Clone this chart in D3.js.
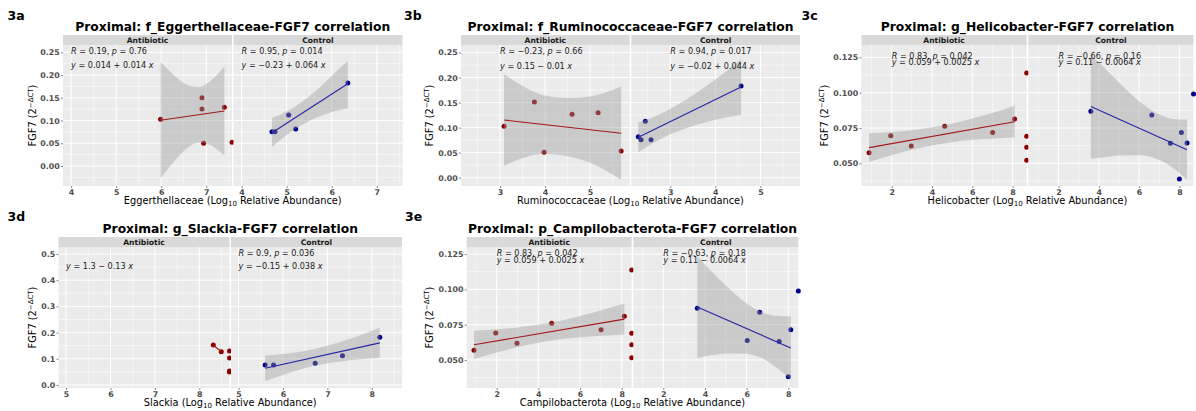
<!DOCTYPE html>
<html>
<head>
<meta charset="utf-8">
<script src="https://cdn.jsdelivr.net/npm/d3@7"></script>
<style>
  body { margin: 0; background: #ffffff; }
  svg text { font-family: "DejaVu Sans", "Liberation Sans", sans-serif; }
</style>
</head>
<body>
<svg id="fig" width="1196" height="411"></svg>
<script>
// ---------- 3a: f_Eggerthellaceae ----------
const eggXLim = [3.82, 7.57];
const eggYLim = [-0.044, 0.2661];
const eggXTicks = [4, 5, 6, 7];
const eggYTicks = [0, 0.05, 0.10, 0.15, 0.20, 0.25];
const eggAbxPts = [[5.985, 0.1026], [6.904, 0.1502], [6.904, 0.1253], [7.40, 0.129], [6.94, 0.0498], [7.57, 0.052]];
const eggCtlPts = [[4.673, 0.0754], [4.74, 0.0754], [5.044, 0.112], [5.20, 0.0813], [6.356, 0.1825]];
const eggAbxFit = [0.0144, 0.0144, 5.985, 7.40];      // intercept, slope, x from, x to
const eggCtlFit = [-0.2258, 0.064, 4.673, 6.356];
const eggAbxBand = [[5.985, -0.0274, 0.2286], [6.3, 0.0121, 0.1981], [6.6, 0.0414, 0.1774], [6.83, 0.0518, 0.1738], [7.1, 0.0456, 0.1876], [7.40, 0.023, 0.219]];
const eggCtlBand = [[4.673, 0.0411, 0.1055], [4.9, 0.0607, 0.1149], [5.2, 0.0827, 0.1313], [5.5, 0.0992, 0.1532], [5.8, 0.1114, 0.1794], [6.1, 0.1213, 0.2079], [6.356, 0.127, 0.231]];
const eggAbxStat = ["0.19", "0.76"];
const eggCtlStat = ["0.95", "0.014"];
const eggAbxEq = "0.014 + 0.014";
const eggCtlEq = "\u22120.23 + 0.064";

// ---------- 3b: f_Ruminococcaceae ----------
const rumXLim = [2.133, 5.88];
const rumYLim = [-0.0166, 0.2649];
const rumXTicks = [3, 4, 5];
const rumYTicks = [0, 0.05, 0.10, 0.15, 0.20, 0.25];
const rumAbxPts = [[3.089, 0.1026], [3.763, 0.1511], [3.978, 0.0507], [4.60, 0.1265], [5.178, 0.1297], [5.689, 0.0533]];
const rumCtlPts = [[2.289, 0.0818], [2.349, 0.0759], [2.444, 0.1126], [2.571, 0.0759], [4.571, 0.183]];
const rumAbxFit = [0.1468, -0.01023, 3.089, 5.689];
const rumCtlFit = [-0.02, 0.04395, 2.289, 4.571];
const rumAbxBand = [[3.089, 0.024, 0.207], [3.5, 0.039, 0.183], [4.0, 0.048, 0.164], [4.5, 0.043, 0.159], [5.0, 0.030, 0.162], [5.689, -0.004, 0.182]];
const rumCtlBand = [[2.289, 0.0509, 0.1103], [2.6, 0.0683, 0.1203], [2.85, 0.0803, 0.1303], [3.3, 0.097, 0.153], [3.8, 0.111, 0.183], [4.2, 0.1196, 0.2096], [4.571, 0.1253, 0.2365]];
const rumAbxStat = ["\u22120.23", "0.66"];
const rumCtlStat = ["0.94", "0.017"];
const rumAbxEq = "0.15 \u2212 0.01";
const rumCtlEq = "\u22120.02 + 0.044";

// ---------- 3c: g_Helicobacter ----------
const helXLim = [0.5, 8.7];
const helYLim = [0.03396, 0.13374];
const helXTicks = [2, 4, 6, 8];
const helYTicks = [0.050, 0.075, 0.100, 0.125];
const helAbxPts = [[0.875, 0.0575], [1.95, 0.0696], [2.97, 0.0623], [4.63, 0.0762], [7.01, 0.0719], [8.10, 0.0814], [8.7, 0.1139], [8.7, 0.0691], [8.7, 0.0613], [8.7, 0.0521]];
const helCtlPts = [[3.606, 0.0868], [6.63, 0.0842], [7.55, 0.0642], [8.10, 0.0719], [8.38, 0.0644], [8.0, 0.0389], [8.7, 0.0991]];
const helAbxFit = [0.0589, 0.00254, 0.875, 8.10];
const helCtlFit = [0.1134, -0.00641, 3.606, 8.38];
const helAbxBand = [[0.875, 0.0509, 0.0713], [2.0, 0.0558, 0.0722], [3.0, 0.0596, 0.0734], [4.256, 0.0634, 0.076], [5.5, 0.066, 0.0798], [6.5, 0.0672, 0.0836], [7.3, 0.0678, 0.087], [8.10, 0.0683, 0.0907]];
const helCtlBand = [[3.606, 0.0535, 0.1271], [4.3, 0.0543, 0.1173], [5.0, 0.0556, 0.1072], [6.0, 0.0558, 0.094], [7.044, 0.0522, 0.0844], [7.7, 0.0466, 0.0814], [8.38, 0.0384, 0.081]];
const helAbxStat = ["0.83", "0.042"];
const helCtlStat = ["\u22120.66", "0.16"];
const helAbxEq = "0.059 + 0.0025";
const helCtlEq = "0.11 \u2212 0.0064";

// ---------- 3d: g_Slackia ----------
const slaXLim = [4.83, 8.68];
const slaYLim = [-0.0115, 0.5267];
const slaXTicks = [5, 6, 7, 8];
const slaYTicks = [0, 0.1, 0.2, 0.3, 0.4, 0.5];
const slaAbxPts = [[8.315, 0.1527], [8.495, 0.127], [8.68, 0.1298], [8.68, 0.103], [8.68, 0.0534], [8.68, 0.050]];
const slaCtlPts = [[5.599, 0.0763], [5.788, 0.0763], [6.725, 0.0827], [7.34, 0.112], [8.18, 0.182]];
const slaAbxFit = [1.266, -0.134, 8.315, 8.495];
const slaCtlFit = [-0.1469, 0.0376, 5.599, 8.18];
const slaAbxBand = [];
const slaCtlBand = [[5.599, 0.0151, 0.1121], [6.2, 0.05, 0.1224], [6.726, 0.0742, 0.1378], [7.3, 0.0901, 0.1651], [7.8, 0.0988, 0.194], [8.18, 0.1032, 0.2182]];
const slaAbxStat = null;
const slaCtlStat = ["0.9", "0.036"];
const slaAbxEq = "1.3 \u2212 0.13";
const slaCtlEq = "\u22120.15 + 0.038";

// ---------- 3e: p_Campilobacterota ----------
const camXLim = [0.56, 8.48];
const camYLim = [0.0302, 0.130];
const camXTicks = [2, 4, 6, 8];
const camYTicks = [0.050, 0.075, 0.100, 0.125];
const camAbxPts = [[0.910, 0.0569], [1.952, 0.0691], [2.975, 0.0618], [4.64, 0.076], [7.007, 0.0714], [8.126, 0.0809], [8.48, 0.1137], [8.48, 0.0689], [8.48, 0.0608], [8.48, 0.0516]];
const camCtlPts = [[3.632, 0.0866], [6.03, 0.0639], [6.628, 0.0838], [7.56, 0.0632], [8.0, 0.0382], [8.12, 0.0715], [8.48, 0.0988]];
const camAbxFit = [0.0585, 0.00252, 0.910, 8.126];
const camCtlFit = [0.111, -0.00646, 3.632, 8.12];
const camAbxBand = [[0.91, 0.0508, 0.0708], [2.0, 0.0553, 0.0717], [3.0, 0.0592, 0.073], [4.27, 0.063, 0.0756], [5.5, 0.0655, 0.0793], [6.5, 0.0667, 0.0831], [7.3, 0.0673, 0.0865], [8.126, 0.068, 0.09]];
const camCtlBand = [[3.632, 0.0515, 0.1235], [4.3, 0.0534, 0.113], [5.0, 0.0547, 0.1027], [6.0, 0.0544, 0.09], [6.662, 0.0517, 0.0843], [7.4, 0.0451, 0.0813], [8.12, 0.0361, 0.0809]];
const camAbxStat = ["0.83", "0.042"];
const camCtlStat = ["\u22120.63", "0.18"];
const camAbxEq = "0.059 + 0.0025";
const camCtlEq = "0.11 \u2212 0.0064";

// ---------- layout ----------
const ROW1 = { top: 45, bottom: 186, stripTop: 35, titleY: 30.5, tagY: 20 };
const ROW2 = { top: 247, bottom: 388, stripTop: 237, titleY: 232.5, tagY: 220.5 };

const panels = [
  { tag: "3a", tagX: 7.5, row: ROW1, yTitleX: 36, A: [63, 232], C: [233.5, 402.5],
    title: "Proximal: f_Eggerthellaceae-FGF7 correlation", taxon: "Eggerthellaceae",
    xLim: eggXLim, yLim: eggYLim, xTicks: eggXTicks, yTicks: eggYTicks, yFmt: ".2f",
    statDy: 9, eqDy: 23,
    abx: { pts: eggAbxPts, fit: eggAbxFit, band: eggAbxBand, stat: eggAbxStat, eq: eggAbxEq, lx: 4 },
    ctl: { pts: eggCtlPts, fit: eggCtlFit, band: eggCtlBand, stat: eggCtlStat, eq: eggCtlEq, lx: 4 } },
  { tag: "3b", tagX: 404, row: ROW1, yTitleX: 432.5, A: [461, 629.7], C: [631.3, 800],
    title: "Proximal: f_Ruminococcaceae-FGF7 correlation", taxon: "Ruminococcaceae",
    xLim: rumXLim, yLim: rumYLim, xTicks: rumXTicks, yTicks: rumYTicks, yFmt: ".2f",
    statDy: 8.6, eqDy: 23.6,
    abx: { pts: rumAbxPts, fit: rumAbxFit, band: rumAbxBand, stat: rumAbxStat, eq: rumAbxEq, lx: 3 },
    ctl: { pts: rumCtlPts, fit: rumCtlFit, band: rumCtlBand, stat: rumCtlStat, eq: rumCtlEq, lx: 3 } },
  { tag: "3c", tagX: 801.5, row: ROW1, yTitleX: 827.5, A: [861.5, 1026.7], C: [1028.3, 1193.5],
    title: "Proximal: g_Helicobacter-FGF7 correlation", taxon: "Helicobacter",
    xLim: helXLim, yLim: helYLim, xTicks: helXTicks, yTicks: helYTicks, yFmt: ".3f",
    statDy: 13.8, eqDy: 20.4,
    abx: { pts: helAbxPts, fit: helAbxFit, band: helAbxBand, stat: helAbxStat, eq: helAbxEq, lx: 2 },
    ctl: { pts: helCtlPts, fit: helCtlFit, band: helCtlBand, stat: helCtlStat, eq: helCtlEq, lx: 2 } },
  { tag: "3d", tagX: 7.5, row: ROW2, yTitleX: 36, A: [58.5, 229.5], C: [231, 402],
    title: "Proximal: g_Slackia-FGF7 correlation", taxon: "Slackia",
    xLim: slaXLim, yLim: slaYLim, xTicks: slaXTicks, yTicks: slaYTicks, yFmt: ".1f",
    statDy: 8.6, eqDy: 22.3,
    abx: { pts: slaAbxPts, fit: slaAbxFit, band: slaAbxBand, stat: slaAbxStat, eq: slaAbxEq, lx: 5 },
    ctl: { pts: slaCtlPts, fit: slaCtlFit, band: slaCtlBand, stat: slaCtlStat, eq: slaCtlEq, lx: 5 } },
  { tag: "3e", tagX: 405, row: ROW2, yTitleX: 432.5, A: [466.7, 631.7], C: [633.3, 798.3],
    title: "Proximal: p_Campilobacterota-FGF7 correlation", taxon: "Campilobacterota",
    xLim: camXLim, yLim: camYLim, xTicks: camXTicks, yTicks: camYTicks, yFmt: ".3f",
    statDy: 8.8, eqDy: 15.9,
    abx: { pts: camAbxPts, fit: camAbxFit, band: camAbxBand, stat: camAbxStat, eq: camAbxEq, lx: 2 },
    ctl: { pts: camCtlPts, fit: camCtlFit, band: camCtlBand, stat: camCtlStat, eq: camCtlEq, lx: 2 } }
];

const COL = {
  panel: "#EBEBEB", strip: "#D9D9D9", grid: "#FFFFFF",
  abxPt: "#8B0000", ctlPt: "#00008B", abxLine: "#A31818", ctlLine: "#2626A6",
  band: "#999999", tick: "#4D4D4D", text: "#1A1A1A"
};

const svg = d3.select("#fig");

// midpoints between major ticks for the lighter minor grid
function minorTicks(ticks, lim) {
  const step = ticks[1] - ticks[0];
  const out = [];
  for (let v = ticks[0] - step / 2; v <= lim[1] + 1e-9; v += step) {
    if (v >= lim[0] - 1e-9) out.push(v);
  }
  return out;
}

function drawFacet(g, p, ext, name, d, isAbx) {
  const row = p.row;
  const x = d3.scaleLinear().domain(p.xLim).range(ext);
  const y = d3.scaleLinear().domain(p.yLim).range([row.bottom, row.top]);
  const fg = g.append("g");

  // panel background
  fg.append("rect").attr("x", ext[0]).attr("y", row.top)
    .attr("width", ext[1] - ext[0]).attr("height", row.bottom - row.top)
    .attr("fill", COL.panel);

  // grid
  const xMinor = minorTicks(p.xTicks, p.xLim), yMinor = minorTicks(p.yTicks, p.yLim);
  fg.append("g").selectAll("line").data(xMinor).join("line")
    .attr("x1", v => x(v)).attr("x2", v => x(v)).attr("y1", row.top).attr("y2", row.bottom)
    .attr("stroke", COL.grid).attr("stroke-width", 0.5);
  fg.append("g").selectAll("line").data(yMinor).join("line")
    .attr("y1", v => y(v)).attr("y2", v => y(v)).attr("x1", ext[0]).attr("x2", ext[1])
    .attr("stroke", COL.grid).attr("stroke-width", 0.5);
  fg.append("g").selectAll("line").data(p.xTicks).join("line")
    .attr("x1", v => x(v)).attr("x2", v => x(v)).attr("y1", row.top).attr("y2", row.bottom)
    .attr("stroke", COL.grid).attr("stroke-width", 1);
  fg.append("g").selectAll("line").data(p.yTicks).join("line")
    .attr("y1", v => y(v)).attr("y2", v => y(v)).attr("x1", ext[0]).attr("x2", ext[1])
    .attr("stroke", COL.grid).attr("stroke-width", 1);

  // strip
  fg.append("rect").attr("x", ext[0]).attr("y", row.stripTop)
    .attr("width", ext[1] - ext[0]).attr("height", row.top - row.stripTop)
    .attr("fill", COL.strip);
  fg.append("text").attr("x", (ext[0] + ext[1]) / 2).attr("y", row.stripTop + 7.6)
    .attr("text-anchor", "middle").attr("font-size", 7.6).attr("font-weight", "bold")
    .attr("fill", COL.text).text(name);

  const clipId = "clip-" + p.tag + name;
  fg.append("clipPath").attr("id", clipId).append("rect")
    .attr("x", ext[0]).attr("y", row.top).attr("width", ext[1] - ext[0]).attr("height", row.bottom - row.top);
  const body = fg.append("g").attr("clip-path", `url(#${clipId})`);

  // points (drawn unclipped so those on the facet edge stay whole)
  fg.append("g").selectAll("circle").data(d.pts).join("circle")
    .attr("cx", q => x(q[0])).attr("cy", q => y(q[1])).attr("r", 2.5)
    .attr("fill", isAbx ? COL.abxPt : COL.ctlPt);

  // confidence band and fitted line sit above the points
  const over = fg.append("g").attr("clip-path", `url(#${clipId})`);
  if (d.band.length) {
    const area = d3.area().curve(d3.curveMonotoneX)
      .x(q => x(q[0])).y0(q => y(q[1])).y1(q => y(q[2]));
    over.append("path").attr("d", area(d.band)).attr("fill", COL.band).attr("fill-opacity", 0.4);
  }
  const [a, b, x0, x1] = d.fit;
  const line = d3.line().x(q => x(q)).y(q => y(a + b * q));
  over.append("path").attr("d", line([x0, x1])).attr("fill", "none")
    .attr("stroke", isAbx ? COL.abxLine : COL.ctlLine).attr("stroke-width", 1.1);
  body.remove();

  // annotations
  const lx = x(d.lx);
  if (d.stat) {
    const t = fg.append("text").attr("x", lx).attr("y", row.top + p.statDy)
      .attr("font-size", 8.1).attr("fill", COL.text);
    t.append("tspan").attr("font-style", "italic").text("R");
    t.append("tspan").text(" = " + d.stat[0] + ", ");
    t.append("tspan").attr("font-style", "italic").text("p");
    t.append("tspan").text(" = " + d.stat[1]);
  }
  const e = fg.append("text").attr("x", lx).attr("y", row.top + p.eqDy)
    .attr("font-size", 8.1).attr("fill", COL.text);
  e.append("tspan").attr("font-style", "italic").text("y");
  e.append("tspan").text(" = " + d.eq + " ");
  e.append("tspan").attr("font-style", "italic").text("x");

  // x axis
  const ax = fg.append("g").attr("transform", `translate(0,${row.bottom})`)
    .call(d3.axisBottom(x).tickValues(p.xTicks).tickFormat(d3.format("d")).tickSize(2).tickPadding(1.2));
  ax.select(".domain").remove();
  ax.selectAll(".tick line").attr("stroke", "#333333").attr("stroke-width", 0.6);
  ax.selectAll(".tick text").attr("font-size", 7.9).attr("font-weight", "bold")
    .attr("fill", COL.tick).attr("font-family", "DejaVu Sans");

  return y;
}

panels.forEach(p => {
  const g = svg.append("g");
  const row = p.row;
  const yA = drawFacet(g, p, p.A, "Antibiotic", p.abx, true);
  drawFacet(g, p, p.C, "Control", p.ctl, false);

  // y axis on the left facet
  const ay = g.append("g").attr("transform", `translate(${p.A[0]},0)`)
    .call(d3.axisLeft(yA).tickValues(p.yTicks).tickFormat(d3.format(p.yFmt)).tickSize(2).tickPadding(1.2));
  ay.select(".domain").remove();
  ay.selectAll(".tick line").attr("stroke", "#333333").attr("stroke-width", 0.6);
  ay.selectAll(".tick text").attr("font-size", 7.9).attr("font-weight", "bold")
    .attr("fill", COL.tick).attr("font-family", "DejaVu Sans");

  const cx = (p.A[0] + p.C[1]) / 2;

  // tag
  g.append("text").attr("x", p.tagX).attr("y", row.tagY)
    .attr("font-size", 12.5).attr("font-weight", "bold").attr("fill", "#000").text(p.tag);

  // title
  g.append("text").attr("x", cx).attr("y", row.titleY).attr("text-anchor", "middle")
    .attr("font-size", 12.3).attr("font-weight", "bold").attr("fill", "#000").text(p.title);

  // x axis title
  const xt = g.append("text").attr("x", cx).attr("y", row.bottom + 17.8).attr("text-anchor", "middle")
    .attr("font-size", 9.8).attr("fill", "#000");
  xt.append("tspan").text(p.taxon + " (Log");
  xt.append("tspan").attr("font-size", 7).attr("dy", 2).text("10");
  xt.append("tspan").attr("dy", -2).text(" Relative Abundance)");

  // y axis title
  const cy = (row.top + row.bottom) / 2;
  const yt = g.append("text").attr("transform", `translate(${p.yTitleX},${cy}) rotate(-90)`)
    .attr("text-anchor", "middle").attr("font-size", 9.8).attr("fill", "#000");
  yt.append("tspan").text("FGF7 (2");
  yt.append("tspan").attr("font-size", 7).attr("dy", -3.5).text("\u2212\u0394CT");
  yt.append("tspan").attr("dy", 3.5).text(")");
});
</script>
</body>
</html>
